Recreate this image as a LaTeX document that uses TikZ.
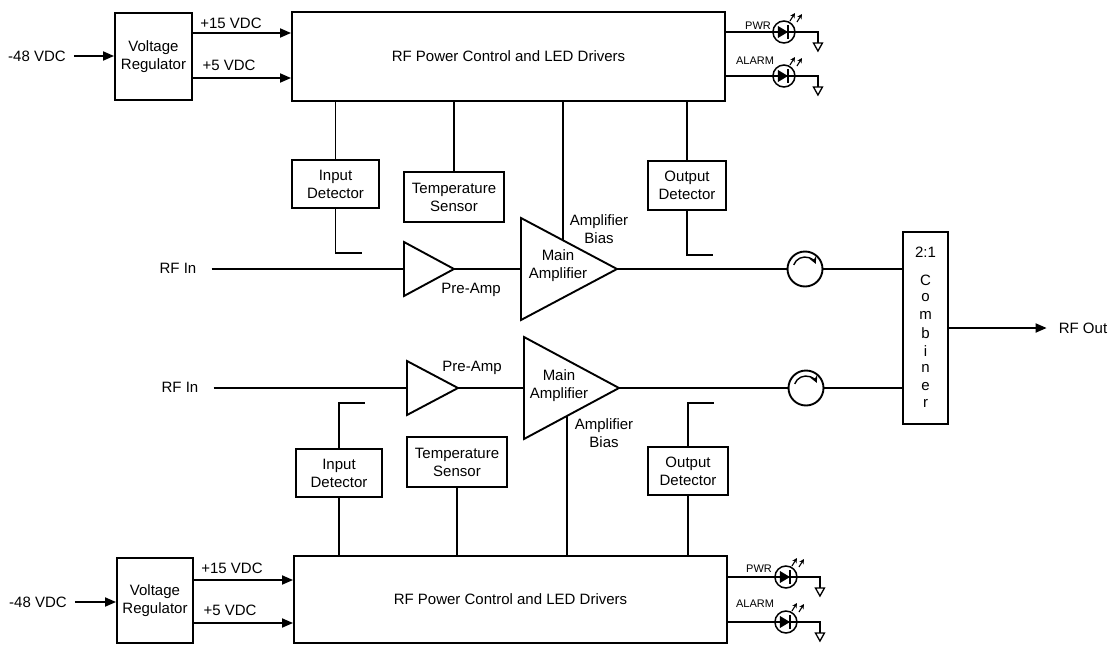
\documentclass[tikz,border=0pt]{standalone}
\usepackage{fontspec}
\setmainfont{Liberation Sans}
\usetikzlibrary{arrows.meta,calc}

\newcommand{\rffont}{\fontsize{15}{18}\selectfont}
\newcommand{\ledfont}{\fontsize{11}{13}\selectfont}

\tikzset{
  blk/.style={draw, line width=1.9pt, align=center, inner sep=0pt, font=\rffont},
  txt/.style={inner sep=0pt, align=center, font=\rffont},
  tag/.style={inner sep=0pt, font=\ledfont},
  wire/.style={line width=1.8pt},
  feed/.style={wire, -{Triangle[length=11pt,width=9pt]}},
  amp/.style={line width=1.9pt, line join=miter},
  circ/.style={circle, draw, line width=1.9pt, minimum size=35pt, inner sep=0pt},
}

\begin{document}
\begin{tikzpicture}[x=1pt, y=-1pt]
\useasboundingbox (0,0) rectangle (1113,645);

% ---------------- upper channel ----------------
\node[blk, minimum width=77pt, minimum height=87pt] (vr1) at (153.5,56.5) {Voltage\\Regulator};
\node[blk, minimum width=433pt, minimum height=89pt] (rf1) at (508.5,56.5) {RF Power Control and LED Drivers};
\node[txt] (vin1) at (37,56) {-48 VDC};
\draw[feed] ([xshift=8pt]vin1.east) -- (vin1.east -| vr1.west);

% supply rails
\draw[feed] ([yshift=23.5pt]vr1.east) -- ([yshift=23.5pt]vr1.east -| rf1.west);
\draw[feed] ([yshift=-21.5pt]vr1.east) -- ([yshift=-21.5pt]vr1.east -| rf1.west);
\node[txt] (p15a) at (231,23) {+15 VDC};
\node[txt] (p5a) at (229,65) {+5 VDC};

% detectors and sensor
\node[blk, minimum width=87pt, minimum height=48pt] (ind1) at (335.5,184) {Input\\Detector};
\node[blk, minimum width=100pt, minimum height=50pt] (tmp1) at (454,197) {Temperature\\Sensor};
\node[blk, minimum width=78pt, minimum height=49pt] (outd1) at (687,185.5) {Output\\Detector};
\draw[wire] (ind1.north) -- (ind1.north |- rf1.south);
\draw[wire] (tmp1.north) -- (tmp1.north |- rf1.south);
\draw[wire] (outd1.north) -- (outd1.north |- rf1.south);
\coordinate (ind1t) at ($(ind1.south)+(0,44)$);
\coordinate (outd1t) at ($(outd1.south)+(0,44)$);
\draw[wire] (ind1.south) -- (ind1t) -- ++(26,0);
\draw[wire] (outd1.south) -- (outd1t) -- ++(26,0);

% pre-amp and main amplifier
\coordinate (pa1a) at (404,242);
\coordinate (pa1b) at (404,296);
\coordinate (pa1o) at (454,269);
\coordinate (pa1i) at (404,269);
\draw[amp] (pa1a) -- (pa1o) -- (pa1b) -- cycle;
\coordinate (ma1a) at (521,218);
\coordinate (ma1b) at (521,320);
\coordinate (ma1o) at (617,269);
\coordinate (ma1i) at (521,269);
\draw[amp] (ma1a) -- (ma1o) -- (ma1b) -- cycle;
\coordinate (bias1) at ($(ma1a)!0.4375!(ma1o)$);
\draw[wire] (bias1) -- (bias1 |- rf1.south);
\node[txt] (pre1) at (471,290) {Pre-Amp};
\node[txt] (main1) at (558,266) {Main\\Amplifier};
\node[txt] (bl1) at (599,229) {Amplifier\\Bias};

% RF path
\node[txt] (rfin1) at (178,268) {RF In};
\node[circ] (cir1) at (805,269) {};
\draw[wire] ([xshift=15pt]rfin1.east |- pa1i) -- (pa1i);
\draw[wire] (pa1o) -- (ma1i);
\draw[wire] (ma1o) -- (cir1.west);
\draw[line width=1.4pt, -{Stealth[length=7pt,width=7pt]}] ($(cir1)+(200:12)$) arc[start angle=200, end angle=335, radius=12];

% ---------------- lower channel ----------------
\node[blk, minimum width=76pt, minimum height=85pt] (vr2) at (155,600.5) {Voltage\\Regulator};
\node[blk, minimum width=433pt, minimum height=87pt] (rf2) at (510.5,599.5) {RF Power Control and LED Drivers};
\node[txt] (vin2) at (38,602) {-48 VDC};
\draw[feed] ([xshift=8pt]vin2.east) -- (vin2.east -| vr2.west);

% supply rails
\draw[feed] ([yshift=20.5pt]vr2.east) -- ([yshift=20.5pt]vr2.east -| rf2.west);
\draw[feed] ([yshift=-22.5pt]vr2.east) -- ([yshift=-22.5pt]vr2.east -| rf2.west);
\node[txt] (p15b) at (232,568) {+15 VDC};
\node[txt] (p5b) at (230,610) {+5 VDC};

% detectors and sensor
\node[blk, minimum width=86pt, minimum height=48pt] (ind2) at (339,473) {Input\\Detector};
\node[blk, minimum width=100pt, minimum height=50pt] (tmp2) at (457,462) {Temperature\\Sensor};
\node[blk, minimum width=80pt, minimum height=48pt] (outd2) at (688,471) {Output\\Detector};
\draw[wire] (ind2.south) -- (ind2.south |- rf2.north);
\draw[wire] (tmp2.south) -- (tmp2.south |- rf2.north);
\draw[wire] (outd2.south) -- (outd2.south |- rf2.north);
\coordinate (ind2t) at ($(ind2.north)+(0,-45)$);
\coordinate (outd2t) at ($(outd2.north)+(0,-43)$);
\draw[wire] (ind2.north) -- (ind2t) -- ++(26,0);
\draw[wire] (outd2.north) -- (outd2t) -- ++(26,0);

% pre-amp and main amplifier
\coordinate (pa2a) at (407,361);
\coordinate (pa2b) at (407,415);
\coordinate (pa2o) at (458,388);
\coordinate (pa2i) at (407,388);
\draw[amp] (pa2a) -- (pa2o) -- (pa2b) -- cycle;
\coordinate (ma2a) at (524,337);
\coordinate (ma2b) at (524,439);
\coordinate (ma2o) at (619,388);
\coordinate (ma2i) at (524,388);
\draw[amp] (ma2a) -- (ma2o) -- (ma2b) -- cycle;
\coordinate (bias2) at ($(ma2b)!0.45!(ma2o)$);
\draw[wire] (bias2) -- (bias2 |- rf2.north);
\node[txt] (pre2) at (472,368) {Pre-Amp};
\node[txt] (main2) at (559,386) {Main\\Amplifier};
\node[txt] (bl2) at (604,433) {Amplifier\\Bias};

% RF path
\node[txt] (rfin2) at (180,387) {RF In};
\node[circ] (cir2) at (806,388) {};
\draw[wire] ([xshift=15pt]rfin2.east |- pa2i) -- (pa2i);
\draw[wire] (pa2o) -- (ma2i);
\draw[wire] (ma2o) -- (cir2.west);
\draw[line width=1.4pt, -{Stealth[length=7pt,width=7pt]}] ($(cir2)+(200:12)$) arc[start angle=200, end angle=335, radius=12];

% ---------------- combiner ----------------
\node[draw, line width=1.9pt, minimum width=45pt, minimum height=192pt] (comb) at (925.5,328) {};
\node[txt] (ratio) at (925.5,252) {2:1};
\foreach \ch [count=\i] in {C,o,m,b,i,n,e,r}
  \node[txt] (cl\i) at (925.5,262.3+17.7*\i) {\ch};
\draw[wire] (cir1.east) -- (cir1.east -| comb.west);
\draw[wire] (cir2.east) -- (cir2.east -| comb.west);
\node[txt] (rfout) at (1083,328) {RF Out};
\draw[feed] (comb.east) -- ([xshift=-12pt]rfout.west);

% ---------------- status LEDs ----------------
\foreach \bx/\ly/\tg/\tx/\ty in {rf1/32/PWR/758/26, rf1/76/ALARM/755/61, rf2/577/PWR/759/569, rf2/622/ALARM/755/604} {
  \coordinate (ls) at (\bx.east |- 0,\ly);
  \coordinate (lc) at ($(ls)+(58,0)$);
  \coordinate (lg) at ($(ls)+(92,0)$);
  \draw[wire] (ls) -- (lg) -- ++(0,11);
  \draw[line width=1.3pt] ($(lg)+(-4.5,11)$) -- ++(9,0) -- ($(lg)+(0,19)$) -- cycle;
  \node[circle, draw, line width=1.5pt, minimum size=22pt, inner sep=0pt] (led\ly) at (lc) {};
  \fill ($(lc)+(-6,-6)$) -- ($(lc)+(-6,6)$) -- ($(lc)+(4,0)$) -- cycle;
  \draw[line width=1.5pt] ($(lc)+(4,-7)$) -- ++(0,14);
  \draw[line width=1.1pt, -{Stealth[length=5pt,width=5pt]}] ($(lc)+(6,-11)$) -- ++(5,-8);
  \draw[line width=1.1pt, -{Stealth[length=5pt,width=5pt]}] ($(lc)+(13,-10)$) -- ++(5,-8);
  \node[tag] (tag\ly) at (\tx,\ty) {\tg};
}
\end{tikzpicture}
\end{document}
